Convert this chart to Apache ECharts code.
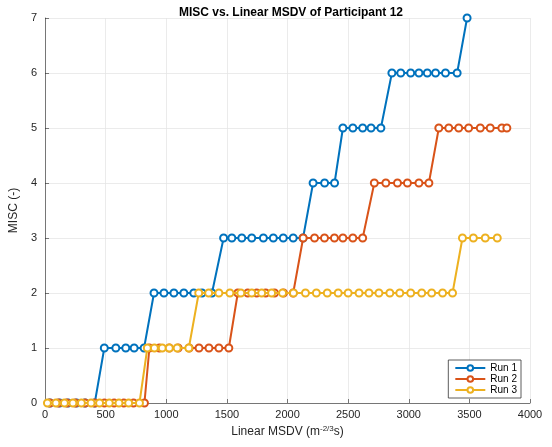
<!DOCTYPE html>
<html><head><meta charset="utf-8">
<script src="https://cdn.jsdelivr.net/npm/echarts@6/dist/echarts.min.js"></script>
<style>html,body{margin:0;padding:0;background:#fff}#c{width:552px;height:447px}</style>
</head><body><div id="c"></div>
<script>
// Run 1 (x = Linear MSDV, y = MISC)
const run1X = [40,120,190,260,330,410, 489,584,666,735,817, 899,981,1063,1145,1227,1295,1377,
  1473,1541,1623,1705,1801,1883,1965,2047,2128, 2211,2306,2388, 2457,2539,2620,2689,2770,
  2861,2934,3016,3084,3153,3221,3303,3399, 3481];
const run1Y = [0,0,0,0,0,0, 1,1,1,1,1, 2,2,2,2,2,2,2, 3,3,3,3,3,3,3,3,3, 4,4,4, 5,5,5,5,5,
  6,6,6,6,6,6,6,6, 7];
const run2X = [40,110,180,250,330,410,490,570,650,730,820, 861,943,1025,1098,1189,1270,1352,1434,1516,
  1590,1672,1746,1820,1893,1967,2047, 2129,2223,2305,2387,2457,2539,2620,
  2716,2811,2907,2989,3084,3166, 3248,3330,3412,3494,3590,3672,3768,3809];
const run2Y = [0,0,0,0,0,0,0,0,0,0,0, 1,1,1,1,1,1,1,1,1, 2,2,2,2,2,2,2, 3,3,3,3,3,3,3,
  4,4,4,4,4,4, 5,5,5,5,5,5,5,5];
const run3X = [20,90,160,230,300,380,450,530,610,690,779, 844,902,967,1025,1090,1186,
  1268,1350,1434,1525,1615,1705,1787,1869,1959,2049,2148,2238,2328,2418,2500,2590,2672,2754,2844,2926,3016,3107,3189,3279,3361,
  3443,3533,3631,3730];
const run3Y = [0,0,0,0,0,0,0,0,0,0,0, 1,1,1,1,1,1,
  2,2,2,2,2,2,2,2,2,2,2,2,2,2,2,2,2,2,2,2,2,2,2,2,2,
  3,3,3,3];
const seriesNames = ['Run 1','Run 2','Run 3'];
const colors = ['#0072BD','#D95319','#EDB120'];

const zip = (xs, ys) => xs.map((x, i) => [x, ys[i]]);
const datasets = [zip(run1X, run1Y), zip(run2X, run2Y), zip(run3X, run3Y)];

const chart = echarts.init(document.getElementById('c'), null, {renderer: 'canvas'});
const axisCol = '#262626';
const font = 'Liberation Sans, Arial, sans-serif';
chart.setOption({
  animation: false,
  title: {
    text: 'MISC vs. Linear MSDV of Participant 12',
    left: 286, top: 2, textAlign: 'center',
    textStyle: {fontFamily: font, fontSize: 12, fontWeight: 'bold', color: '#000'}
  },
  grid: {left: 42, right: 22, top: 18, bottom: 44, containLabel: false},
  legend: {
    orient: 'vertical', right: 31, bottom: 49,
    backgroundColor: '#fff', borderColor: '#333', borderWidth: 0.8, borderRadius: 0,
    padding: [3, 4, 3, 6], itemGap: 1, itemWidth: 30, itemHeight: 7,
    textStyle: {fontFamily: font, fontSize: 10, color: '#000'},
    data: seriesNames
  },
  xAxis: {
    type: 'value', min: 0, max: 4000, interval: 500,
    name: 'Linear MSDV (m{sup|-2/3}s)', nameLocation: 'middle', nameGap: 22,
    nameTextStyle: {fontFamily: font, fontSize: 12, color: axisCol,
      rich: {sup: {fontFamily: font, fontSize: 8, verticalAlign: 'top', padding: [0, 0, 6, 0], color: axisCol}}},
    axisLine: {show: true, lineStyle: {color: axisCol, width: 0.6}},
    axisTick: {show: true, inside: true, length: 4, lineStyle: {color: axisCol, width: 0.6}},
    axisLabel: {fontFamily: font, fontSize: 11, color: axisCol, margin: 6, formatter: v => String(v)},
    splitLine: {show: true, lineStyle: {color: '#e6e6e6', width: 0.8}}
  },
  yAxis: {
    type: 'value', min: 0, max: 7, interval: 1,
    name: 'MISC (-)', nameLocation: 'middle', nameGap: 22,
    nameTextStyle: {fontFamily: font, fontSize: 12, color: axisCol},
    axisLine: {show: true, lineStyle: {color: axisCol, width: 0.6}},
    axisTick: {show: true, inside: true, length: 4, lineStyle: {color: axisCol, width: 0.6}},
    axisLabel: {fontFamily: font, fontSize: 11, color: axisCol, margin: 8},
    splitLine: {show: true, lineStyle: {color: '#e6e6e6', width: 0.8}}
  },
  series: datasets.map((d, i) => ({
    name: seriesNames[i], type: 'line', data: d,
    symbol: 'emptyCircle', symbolSize: 7, showAllSymbol: true,
    color: colors[i],
    lineStyle: {color: colors[i], width: 2},
    itemStyle: {color: colors[i], borderColor: colors[i], borderWidth: 1.6},
    z: 2 + i
  }))
});
</script></body></html>
